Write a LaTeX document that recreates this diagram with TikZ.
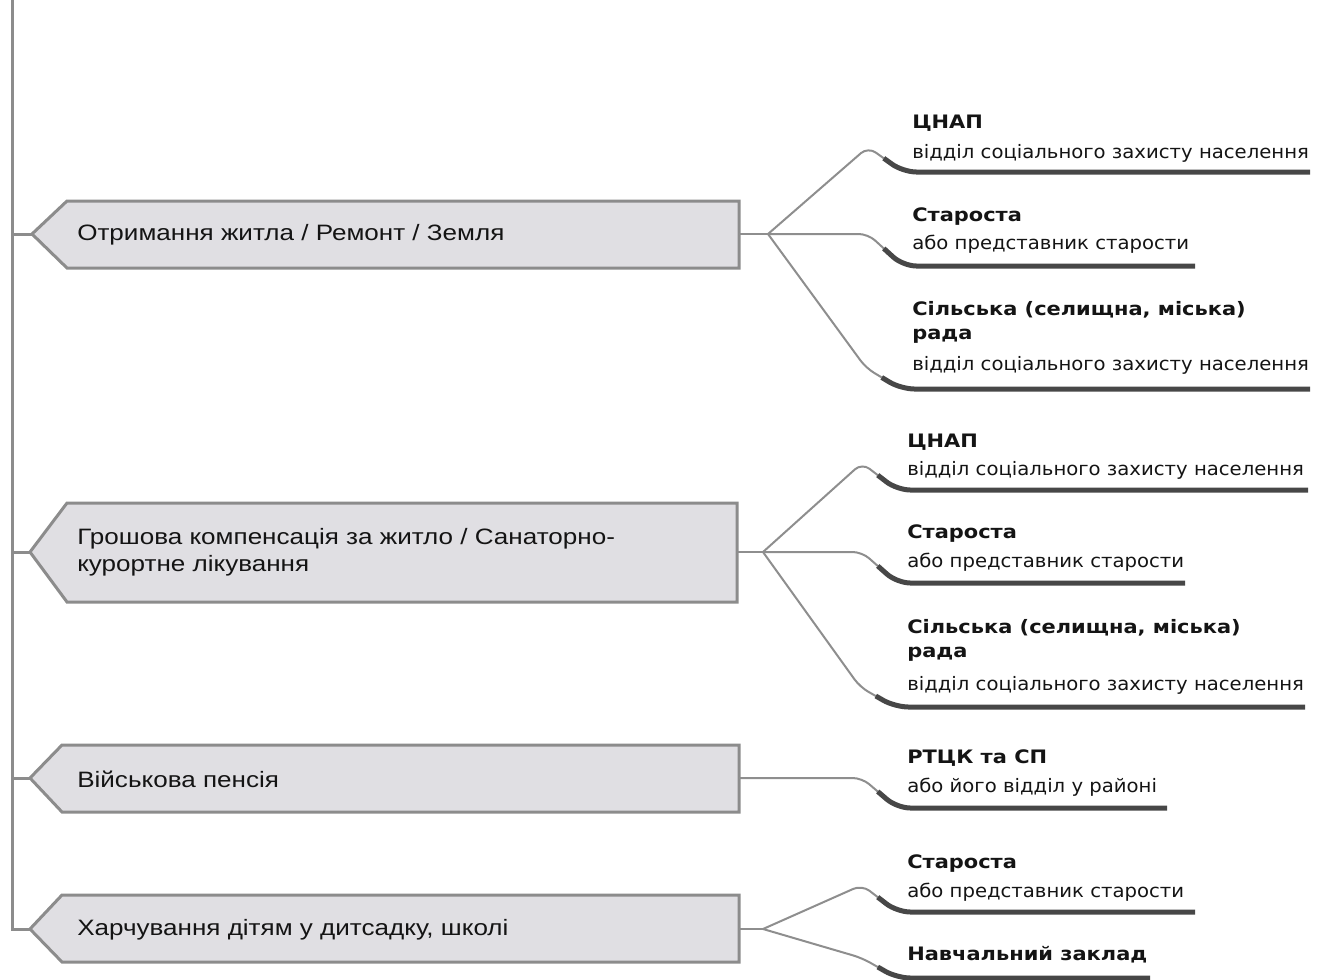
\documentclass[tikz,border=0pt]{standalone}
\usepackage{fontspec}
\setmainfont{Liberation Sans}
\newfontfamily\boxfont[FakeStretch=1.17]{Liberation Sans}
\newfontfamily\leafreg[FakeStretch=1.06]{DejaVu Sans}
\newfontfamily\leafbold[FakeStretch=1.13]{DejaVu Sans}
\usetikzlibrary{calc}
\definecolor{boxfill}{HTML}{E0DFE3}
\definecolor{boxline}{HTML}{8C8C8C}
\definecolor{connc}{HTML}{8E8E8E}
\definecolor{darkc}{HTML}{474747}
\definecolor{txt}{HTML}{141414}
\tikzset{
 trunk/.style={draw=boxline, line width=2.25pt, line join=miter},
 boxshape/.style={draw=boxline, fill=boxfill, line width=2.25pt, line join=miter},
 boxtext/.style={anchor=west, font=\boxfont\fontsize{16.7}{20.25}\selectfont, align=left, inner sep=0pt, text=txt},
 conn/.style={draw=connc, line width=1.5pt, rounded corners=7pt},
 darkline/.style={draw=darkc, line width=3.75pt, rounded corners=10pt},
 ttl/.style={anchor=base west, font=\leafbold\bfseries\fontsize{13.9}{18}\selectfont, align=left, inner sep=0pt, text=txt},
 subt/.style={anchor=base west, font=\leafreg\fontsize{13.9}{20}\selectfont, inner sep=0pt, text=txt},
}
% #1 start, #2 apex x, #3 apex y, #4 line y, #5 end x, #6 id
\newcommand\leafpath[6]{%
  \coordinate (#6a) at (#2,#3);
  \coordinate (#6b) at ({#2+35},#4);
  \coordinate (#6e) at (#5,#4);
  \coordinate (#6m) at ($(#6a)!0.45!(#6b)$);
  \path[conn] (#1) -- (#6a) -- (#6m);
  \path[darkline] (#6m) -- (#6b) -- (#6e);
}
\begin{document}
\begin{tikzpicture}[x=0.75pt,y=-0.75pt]
\useasboundingbox (0,0) rectangle (1317,979);

% ---------- boxes ----------
\coordinate (b1tip) at (32,234);
\coordinate (b1r) at (739,234);
\draw[boxshape] (b1tip) -- (67,201) -- (739,201) -- (739,268) -- (67,268) -- cycle;
\node[boxtext] (b1) at (77,235) {Отримання житла / Ремонт / Земля};

\coordinate (b2tip) at (30,552);
\coordinate (b2r) at (737,552);
\draw[boxshape] (b2tip) -- (67,503) -- (737,503) -- (737,602) -- (67,602) -- cycle;
\node[boxtext] (b2) at (77,552) {Грошова компенсація за житло / Санаторно-\\курортне лікування};

\coordinate (b3tip) at (30,778);
\coordinate (b3r) at (739,778);
\draw[boxshape] (b3tip) -- (62,745) -- (739,745) -- (739,812) -- (62,812) -- cycle;
\node[boxtext] (b3) at (77,779) {Військова пенсія};

\coordinate (b4tip) at (30,929);
\coordinate (b4r) at (739,929);
\draw[boxshape] (b4tip) -- (62,895) -- (739,895) -- (739,962) -- (62,962) -- cycle;
\node[boxtext] (b4) at (77,930) {Харчування дітям у дитсадку, школі};

% ---------- trunk ----------
\coordinate (ttop) at (12,-2);
\coordinate (t1) at (12,234);
\coordinate (t2) at (12,552);
\coordinate (t3) at (12,778);
\coordinate (t4) at (12,929);
\draw[trunk] (ttop) -- (t4) -- (b4tip);
\draw[trunk] (t1) -- (b1tip);
\draw[trunk] (t2) -- (b2tip);
\draw[trunk] (t3) -- (b3tip);

% ---------- group 1 ----------
\coordinate (j1) at (768,234);
\path[conn] (b1r) -- (j1);
\leafpath{j1}{868}{147}{172}{1310}{l11}
\leafpath{j1}{868}{234}{266}{1195}{l12}
\leafpath{j1}{866}{368}{389}{1310}{l13}
\node[ttl] (l11t) at (912,128) {ЦНАП};
\node[subt] (l11s) at (912,158) {відділ соціального захисту населення};
\node[ttl] (l12t) at (912,221) {Староста};
\node[subt] (l12s) at (912,249) {або представник старости};
\node[ttl] (l13t) at (912,339) {Сільська (селищна, міська)\\рада};
\node[subt] (l13s) at (912,370) {відділ соціального захисту населення};

% ---------- group 2 ----------
\coordinate (j2) at (763,552);
\path[conn] (b2r) -- (j2);
\leafpath{j2}{862}{463}{490}{1308}{l21}
\leafpath{j2}{862}{552}{583}{1185}{l22}
\leafpath{j2}{860}{687}{707}{1305}{l23}
\node[ttl] (l21t) at (907,447) {ЦНАП};
\node[subt] (l21s) at (907,475) {відділ соціального захисту населення};
\node[ttl] (l22t) at (907,538) {Староста};
\node[subt] (l22s) at (907,567) {або представник старости};
\node[ttl] (l23t) at (907,657) {Сільська (селищна, міська)\\рада};
\node[subt] (l23s) at (907,690) {відділ соціального захисту населення};

% ---------- group 3 ----------
\leafpath{b3r}{862}{778}{808}{1167}{l31}
\node[ttl] (l31t) at (907,763) {РТЦК та СП};
\node[subt] (l31s) at (907,792) {або його відділ у районі};

% ---------- group 4 ----------
\coordinate (j4) at (763,929);
\path[conn] (b4r) -- (j4);
\leafpath{j4}{862}{885}{912}{1195}{l41}
\leafpath{j4}{862}{958}{978}{1150}{l42}
\node[ttl] (l41t) at (907,868) {Староста};
\node[subt] (l41s) at (907,897) {або представник старости};
\node[ttl] (l42t) at (907,960) {Навчальний заклад};
\end{tikzpicture}
\end{document}
